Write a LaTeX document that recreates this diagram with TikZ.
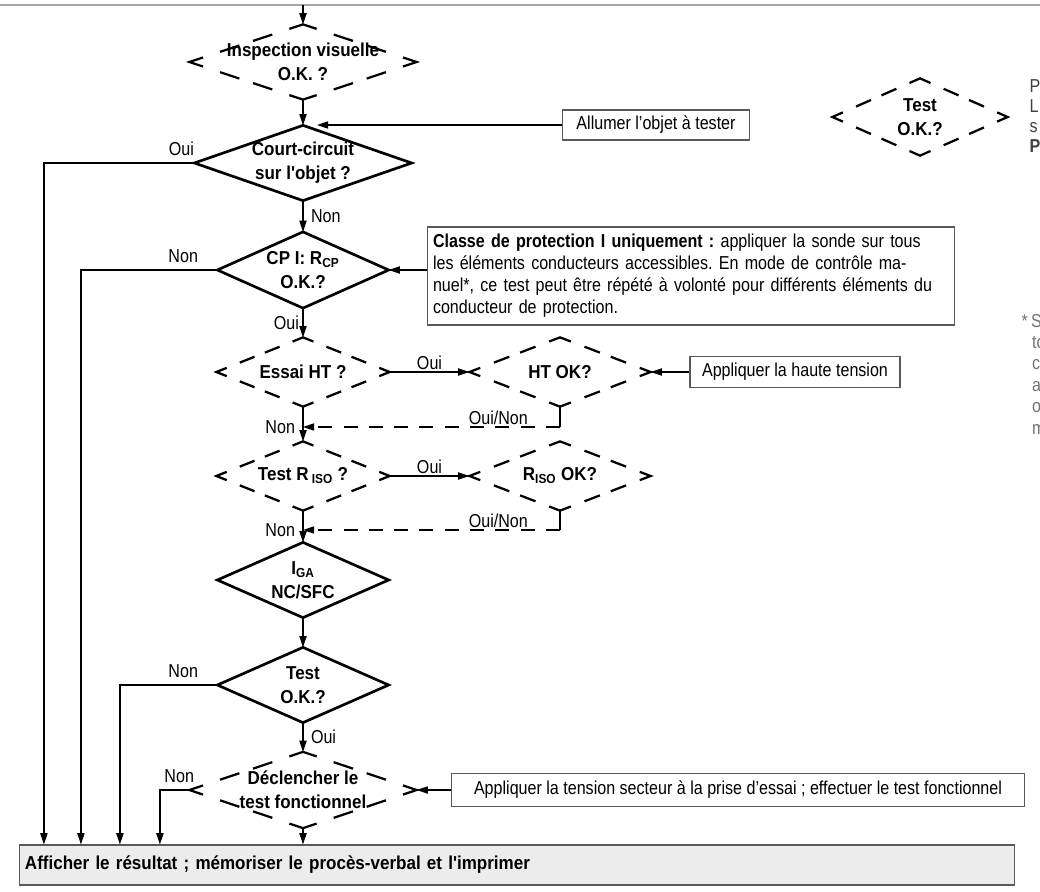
\documentclass[tikz,border=0pt]{standalone}
\usepackage{fontspec}
\setmainfont{Liberation Sans}[FakeStretch=0.86]
\newfontfamily\decfont{Liberation Sans}[FakeStretch=0.91]
\frenchspacing
\usetikzlibrary{arrows.meta,calc}
% dashed decision: corner chevrons plus two dashes on each side
\newcommand{\dashdiamond}[1]{%
  \foreach \pa/\pb/\pc in {north/east/west,east/south/north,south/west/east,west/north/south}{%
    \draw[dline] ($(#1.\pa)!0.12!(#1.\pc)$) -- (#1.\pa) -- ($(#1.\pa)!0.12!(#1.\pb)$);
    \draw[dline] ($(#1.\pa)!0.27!(#1.\pb)$) -- ($(#1.\pa)!0.44!(#1.\pb)$)
                 ($(#1.\pa)!0.56!(#1.\pb)$) -- ($(#1.\pa)!0.73!(#1.\pb)$);
  }}
\begin{document}
\begin{tikzpicture}[x=0.25mm, y=-0.25mm, font=\fontsize{13.3}{15.6}\selectfont,
    line width=0.9pt, >={Triangle[length=2.8mm,width=1.8mm]},
    dec/.style={inner sep=0pt, align=center, font=\fontsize{13.3}{17}\selectfont\decfont\bfseries},
    sline/.style={line width=1.9pt, line join=miter},
    dline/.style={line width=1.6pt, line join=miter},
    txtbox/.style={draw=black!65, line width=0.8pt, inner sep=0pt},
    lbl/.style={inner sep=1pt}]
  \useasboundingbox (0,0) rectangle (1040,892);
  \draw[gray!70, line width=0.6mm] (0,5) -- (1040,5);
  \coordinate (top) at (303,5);
  % decisions
  \node[dec, minimum width=56.5mm, minimum height=18.5mm] (d1) at (303,62) {Inspection visuelle\\O.K. ?};
  \node[dec, minimum width=54mm, minimum height=18.5mm] (d2) at (303,163) {Court-circuit\\sur l'objet ?};
  \node[dec, minimum width=42.5mm, minimum height=18.75mm] (d3) at (303,270) {CP I: R\textsubscript{CP}\\O.K.?};
  \node[dec, minimum width=43mm, minimum height=17mm] (d4) at (303,372) {Essai HT ?};
  \node[dec, minimum width=45mm, minimum height=17mm] (d5) at (560,372) {HT OK?};
  \node[dec, minimum width=43mm, minimum height=17mm] (d6) at (303,476) {Test R\,\textsubscript{ISO} ?};
  \node[dec, minimum width=45mm, minimum height=17mm] (d7) at (560,476) {R\textsubscript{ISO} OK?};
  \node[dec, minimum width=42.5mm, minimum height=18.5mm] (d8) at (303,580) {I\textsubscript{GA}\\NC/SFC};
  \node[dec, minimum width=42.5mm, minimum height=18.5mm] (d9) at (303,685) {Test\\O.K.?};
  \node[dec, minimum width=56.5mm, minimum height=18.75mm] (d10) at (303,790) {Déclencher le\\test fonctionnel};
  \node[dec, minimum width=43.5mm, minimum height=19mm] (leg) at (920,117) {Test\\O.K.?};
  \foreach \n in {d2,d3,d8,d9} \draw[sline] (\n.north) -- (\n.east) -- (\n.south) -- (\n.west) -- cycle;
  \foreach \n in {d1,d4,d5,d6,d7,d10,leg} \dashdiamond{\n};
  % boxes
  \node[txtbox, minimum width=46.75mm, minimum height=7.5mm] (allum) at (656,125) {Allumer l'objet à tester};
  \node[txtbox, minimum width=131.75mm, minimum height=24.5mm, text width=129mm, align=left] (cls) at (691,276)
    {\textbf{Classe de protection I uniquement :} appliquer la sonde sur tous\\
     les éléments conducteurs accessibles. En mode de contrôle ma-\\
     nuel*, ce test peut être répété à volonté pour différents éléments du\\
     conducteur de protection.};
  \node[txtbox, minimum width=52.5mm, minimum height=7.75mm] (ht) at (795,372) {Appliquer la haute tension};
  \node[txtbox, minimum width=143.25mm, minimum height=8.25mm] (ten) at (738,790)
    {Appliquer la tension secteur à la prise d'essai ; effectuer le test fonctionnel};
  \node[txtbox, fill=gray!15, minimum width=248.75mm, minimum height=10mm, text width=246mm, align=left,
    font=\fontsize{13.3}{15.6}\selectfont\decfont\bfseries] (res) at (517,865)
    {Afficher le résultat ; mémoriser le procès-verbal et l'imprimer};
  % main flow
  \draw[->] (top) -- (d1.north);
  \draw[->] (d1.south) -- (d2.north);
  \draw[->] (d2.south) -- node[lbl, right, xshift=1.5mm] {Non} (d3.north);
  \draw[->] (d3.south) -- node[lbl, left, xshift=-0.5mm] {Oui} (d4.north);
  \draw[->] (d4.south) -- node[lbl, left, pos=0.6, xshift=-1.5mm] {Non} (d6.north);
  \draw[->] (d6.south) -- node[lbl, left, pos=0.6, xshift=-1.5mm] {Non} (d8.north);
  \draw[->] (d8.south) -- (d9.north);
  \draw[->] (d9.south) -- node[lbl, right, xshift=1.5mm] {Oui} (d10.north);
  \draw[->] (d10.south) -- (d10.south |- res.north);
  \draw[->] (d4.east) -- node[lbl, above] {Oui} (d5.west);
  \draw[->] (d6.east) -- node[lbl, above] {Oui} (d7.west);
  % inputs from the boxes
  \draw[->, shorten >=3.5mm] (allum.west) -- (allum.west -| d1.south);
  \draw[->] (d3.east -| cls.west) -- (d3.east);
  \draw[->] (ht.west) -- (d5.east);
  \draw[->] (ten.west) -- (d10.east);
  % returns
  \coordinate (r1) at (303,427);
  \coordinate (r2) at (303,530);
  \draw (d5.south) -- (d5.south |- r1);
  \draw[->, dash pattern=on 10pt off 8pt] (d5.south |- r1) -- node[lbl, above, pos=0.24] {Oui/Non} (r1);
  \draw (d7.south) -- (d7.south |- r2);
  \draw[->, dash pattern=on 10pt off 8pt] (d7.south |- r2) -- node[lbl, above, pos=0.24] {Oui/Non} (r2);
  % exits to the result
  \draw[->] (d2.west) -| ($(res.north west)+(25,0)$);
  \draw[->] (d3.west) -| ($(res.north west)+(62,0)$);
  \draw[->] (d9.west) -| ($(res.north west)+(101,0)$);
  \draw[->] (d10.west) -| ($(res.north west)+(141,0)$);
  \node[lbl, anchor=south east] at (196,158) {Oui};
  \node[lbl, anchor=south east] at (200,265) {Non};
  \node[lbl, anchor=south east] at (200,680) {Non};
  \node[lbl, anchor=south east] at (196,785) {Non};
  % texts cut by the right edge
  \node[anchor=north west, align=left, inner sep=0pt, text=black!75, font=\fontsize{13.3}{14.2}\selectfont] (legtxt) at (1029,79)
    {P\\L\\s\\\textbf{P}};
  \node[anchor=north west, align=left, inner sep=0pt, text=black!55, font=\fontsize{13.3}{15.2}\selectfont] (note) at (1021,313)
    {*\,Si\\\hspace*{2.6mm}to\\\hspace*{2.6mm}c\\\hspace*{2.6mm}a\\\hspace*{2.6mm}o\\\hspace*{2.6mm}m};
\end{tikzpicture}
\end{document}
